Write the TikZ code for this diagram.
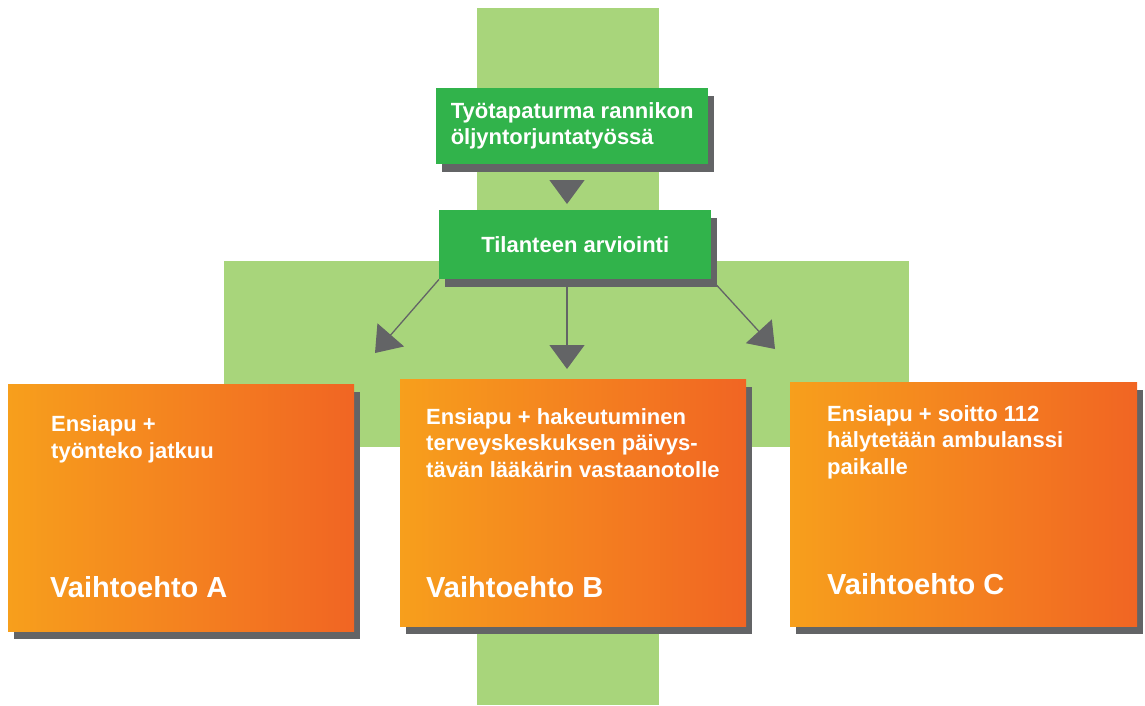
\documentclass[tikz,border=0pt]{standalone}
\usepackage{fontspec}
\setmainfont{Liberation Sans}
\usepackage{tikz}
\usetikzlibrary{arrows.meta,shadows}

\definecolor{crossgreen}{HTML}{A8D57B}
\definecolor{boxgreen}{HTML}{31B34B}
\definecolor{shadegray}{HTML}{636466}
\definecolor{orangeL}{HTML}{F79F1C}
\definecolor{orangeR}{HTML}{F16523}

\begin{document}
\begin{tikzpicture}[x=1pt,y=-1pt,
    darkshadow/.style={drop shadow={shadow xshift=5.5pt,shadow yshift=-7.5pt,fill=shadegray,opacity=1}},
    greenbox/.style={fill=boxgreen,darkshadow,inner sep=0pt,anchor=north west,minimum width=272pt,
      text=white,align=left,font=\bfseries\fontsize{22}{26}\selectfont},
    choice/.style={left color=orangeL,right color=orangeR,darkshadow,inner sep=0pt,anchor=north west},
    boxtext/.style={text=white,align=left,anchor=base west,inner sep=0pt,font=\bfseries\fontsize{22}{26.5}\selectfont},
    bigtext/.style={text=white,anchor=base west,inner sep=0pt,font=\bfseries\fontsize{29}{34}\selectfont},
    flow/.style={draw=shadegray,line width=1.3pt,-{Triangle[width=35pt,length=24pt]}}]
  \useasboundingbox (0,0) rectangle (1145,705);
  \fill[crossgreen] (477,8) rectangle (659,705);
  \fill[crossgreen] (224,261) rectangle (909,447);

  \node[greenbox,minimum height=76pt] (work) at (436,88) {Työtapaturma rannikon\\öljyntorjuntatyössä};
  \node[greenbox,minimum height=69pt] (assess) at (439,210) {Tilanteen arviointi};

  \node[choice,minimum width=346pt,minimum height=247pt] (boxA) at (8,384) {};
  \node[choice,minimum width=346pt,minimum height=247pt] (boxB) at (400,379) {};
  \node[choice,minimum width=347pt,minimum height=244pt] (boxC) at (790,382) {};

  % base of a multi-line node = last line
  \node[boxtext] (textA) at (51,458) {Ensiapu +\\työnteko jatkuu};
  \node[boxtext] (textB) at (426,477) {Ensiapu + hakeutuminen\\terveyskeskuksen päivys-\\tävän lääkärin vastaanotolle};
  \node[boxtext] (textC) at (827,474) {Ensiapu + soitto 112\\hälytetään ambulanssi\\paikalle};
  \node[bigtext] (titleA) at (50,597) {Vaihtoehto A};
  \node[bigtext] (titleB) at (426,597) {Vaihtoehto B};
  \node[bigtext] (titleC) at (827,594) {Vaihtoehto C};

  \coordinate (axis) at (567,0);
  \coordinate (tipA) at (375,353);
  \coordinate (tipB) at (567,369);
  \coordinate (tipC) at (775,349);
  \draw[flow,shorten <=16pt,shorten >=6pt] (work.south -| axis) -- (assess.north -| axis);
  \draw[flow] (assess.south west) -- (tipA);
  \draw[flow] (assess.south -| axis) -- (tipB);
  \draw[flow] (assess.south east) -- (tipC);
\end{tikzpicture}
\end{document}
